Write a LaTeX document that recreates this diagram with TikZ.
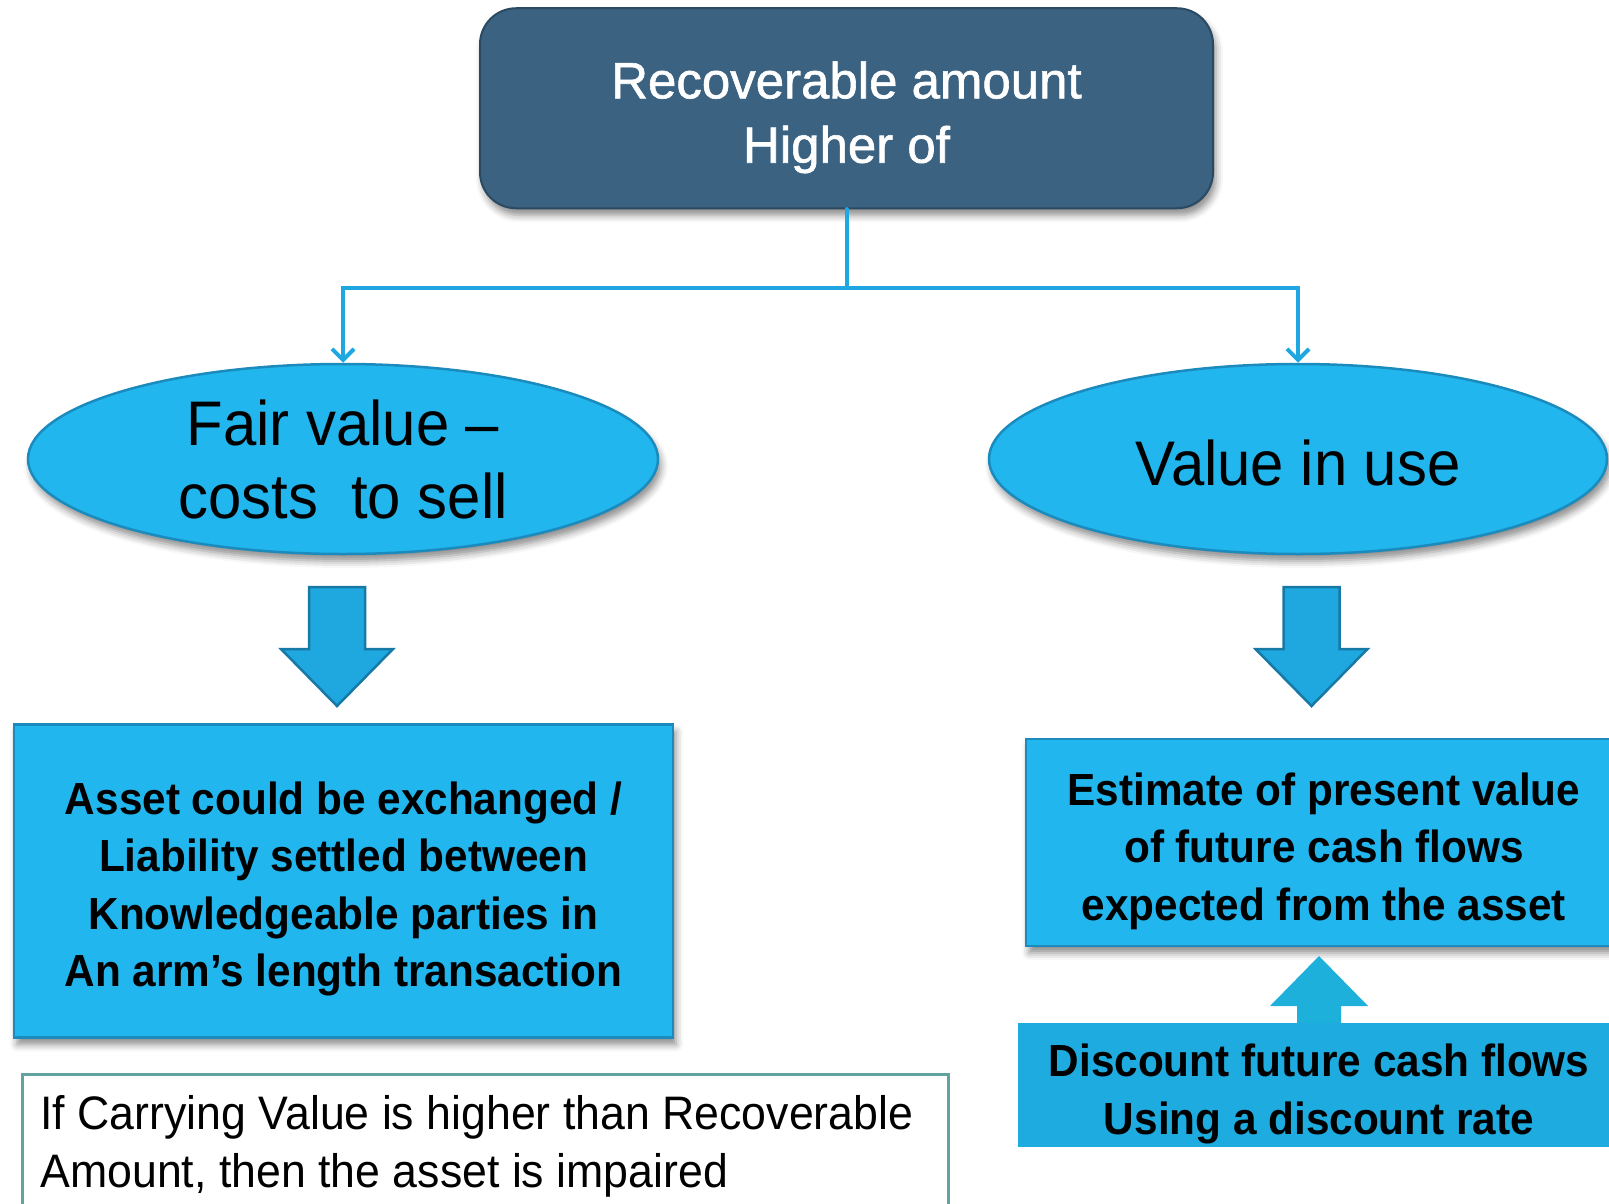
\documentclass[tikz,border=0pt]{standalone}
\usepackage{fontspec}
\setmainfont{Liberation Sans}
\newfontfamily\headfont{Liberation Sans}[FakeBold=1.2]
\newfontfamily\ovalfont{Liberation Sans}[FakeStretch=0.95]
\newfontfamily\boxfont{Liberation Sans}[FakeStretch=0.94]
\usetikzlibrary{shapes.geometric,arrows.meta,shadows.blur}

\definecolor{slate}{HTML}{3B6280}
\definecolor{slateedge}{HTML}{2B4A62}
\definecolor{sky}{HTML}{22B6EE}
\definecolor{skyedge}{HTML}{1A8BBC}
\definecolor{linkblue}{HTML}{1EA7E0}
\definecolor{arrowfill}{HTML}{1FA8DF}
\definecolor{arrowedge}{HTML}{1679A6}
\definecolor{upfill}{HTML}{1DB0DA}
\definecolor{discfill}{HTML}{1EABE0}
\definecolor{noteedge}{HTML}{62A3A0}

\tikzset{
  dropshadow/.style={blur shadow={shadow xshift=3pt, shadow yshift=-7pt,
      shadow blur radius=7pt, shadow opacity=45}},
  topbox/.style={rounded corners=36pt, fill=slate, draw=slateedge, line width=2pt,
      minimum width=733pt, minimum height=200pt, inner sep=0pt, text=white,
      align=center, font=\headfont\fontsize{51}{64.4}\selectfont, dropshadow},
  oval/.style={ellipse, fill=sky, draw=skyedge, line width=2.5pt, inner sep=0pt,
      minimum height=190pt, align=center, font=\ovalfont\fontsize{63}{73.3}\selectfont,
      dropshadow},
  infobox/.style={rectangle, fill=sky, draw=skyedge, line width=2.5pt, inner sep=0pt,
      align=center, font=\boxfont\bfseries\fontsize{45}{57.5}\selectfont, dropshadow},
  discbox/.style={rectangle, fill=discfill, inner sep=0pt, align=center,
      font=\boxfont\bfseries\fontsize{45}{57.5}\selectfont},
  notebox/.style={rectangle, fill=white, draw=noteedge, line width=3pt,
      inner xsep=18pt, inner ysep=21pt, text width=890pt, align=flush left,
      font=\ovalfont\fontsize{47}{57.5}\selectfont},
  conn/.style={draw=linkblue, line width=4pt, line cap=round,
      -{Straight Barb[length=11pt, width=22pt, line width=4pt]}},
  blockarrow/.style={fill=arrowfill, draw=arrowedge, line width=2.5pt, line join=miter},
}

\begin{document}
\begin{tikzpicture}[x=1pt, y=-1pt]
\useasboundingbox (0,0) rectangle (1609,1204);
\clip (0,0) rectangle (1609,1204);

% heading
\node[topbox, text height=108.9pt, text depth=0pt] (rec) at (846.5,108.25)
  {Recoverable amount\\Higher of};

% the two measures
\node[oval, minimum width=630pt, text height=118.6pt, text depth=0pt] (fv) at (343,459)
  {Fair value –\\costs\ \ to sell};
\node[oval, minimum width=618pt, text height=52pt, text depth=0pt] (viu) at (1298,459)
  {Value in use};

% fork from the heading
\draw[conn] (rec.south) -- ++(0,79) -| (fv.north);
\draw[conn] (rec.south) -- ++(0,79) -| (viu.north);

% block arrows under the ovals
\draw[blockarrow] (309,587) -- (365,587) -- (365,649) -- (393,649)
  -- (337,706) -- (281,649) -- (309,649) -- cycle;
\draw[blockarrow] (1283.5,587) -- (1339.5,587) -- (1339.5,649) -- (1367.5,649)
  -- (1311.5,706) -- (1255.5,649) -- (1283.5,649) -- cycle;

% definitions
\node[infobox, minimum width=659pt, minimum height=313pt, text height=211.4pt,
  text depth=0pt] (fvdef) at (343.5,881)
  {Asset could be exchanged /\\Liability settled between\\Knowledgeable parties in\\An arm’s length transaction};
\node[infobox, minimum width=596pt, minimum height=207pt, text height=155.6pt,
  text depth=0pt] (viudef) at (1324,842.5)
  {Estimate of present value\\of future cash flows\\expected from the asset};

% discounting feeds the value in use estimate
\fill[upfill] (1297,1025) -- (1297,1006) -- (1270,1006) -- (1319,956)
  -- (1368,1006) -- (1341,1006) -- (1341,1025) -- cycle;
\node[discbox, minimum width=602pt, minimum height=124pt, text height=98pt,
  text depth=0pt] (disc) at (1319,1085)
  {Discount future cash flows\\Using a discount rate};

% impairment note
\node[notebox, anchor=north west] (note) at (21,1073)
  {If Carrying Value is higher than Recoverable\\Amount, then the asset is impaired};
\end{tikzpicture}
\end{document}
